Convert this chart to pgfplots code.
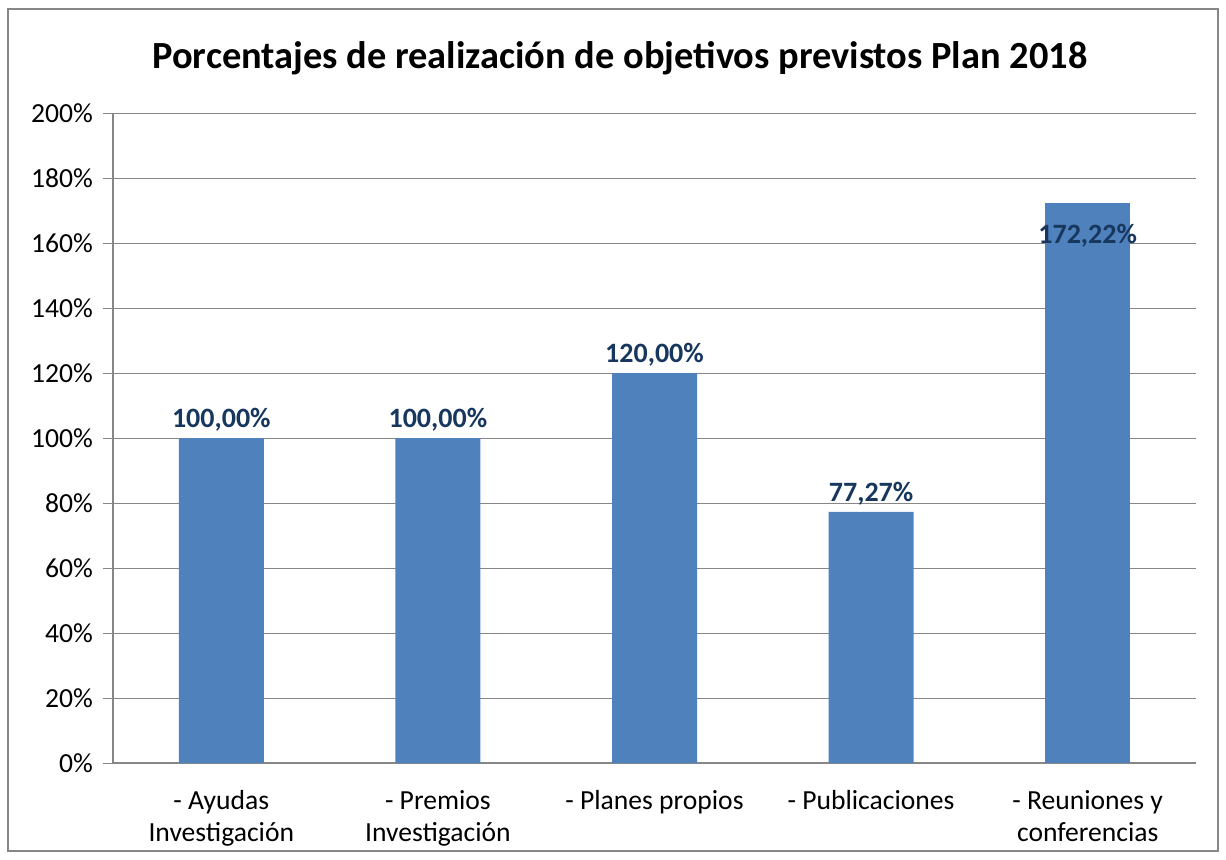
\documentclass[border=0pt]{standalone}
\usepackage{pgfplots}
\pgfplotsset{compat=1.18}
\usepackage{fontspec}
\setmainfont{Carlito}
\definecolor{barblue}{HTML}{4F81BD}
\definecolor{gridgray}{HTML}{868686}
\definecolor{lblnavy}{HTML}{17375E}
\begin{document}
\begin{tikzpicture}
\path[use as bounding box] (0,0) rectangle (613pt,-429.5pt);
\draw[gridgray, line width=1pt] (4pt,-4.5pt) rectangle (609pt,-425.5pt);
\node[font=\fontsize{19.2}{22}\selectfont\bfseries] at (310pt,-29pt) {Porcentajes de realización de objetivos previstos Plan 2018};
\begin{axis}[
 at={(56.5pt,-381.5pt)}, anchor=south west,
 scale only axis, width=541.5pt, height=325pt,
 xmin=-0.5, xmax=4.5, ymin=0, ymax=200,
 ytick={0,20,...,200},
 yticklabel={\pgfmathprintnumber[assume math mode=true]{\tick}\%},
 ymajorgrids, grid style={gridgray, line width=0.5pt},
 axis x line*=bottom, axis y line*=left,
 axis line style={gridgray, line width=0.6pt},
 tick align=outside, major tick length=5pt,
 tick style={gridgray, line width=0.5pt},
 xtick={0,1,2,3,4},
 xticklabels={{- Ayudas\\Investigación},{- Premios\\Investigación},{- Planes propios},{- Publicaciones},{- Reuniones y\\conferencias}},
 x tick style={draw=none},
 extra x ticks={-0.5,0.5,1.5,2.5,3.5,4.5},
 extra x tick labels={},
 extra x tick style={grid=none, tick style={draw=gridgray, line width=0.5pt}},
 xticklabel style={align=center, font=\fontsize{13.8}{16}\selectfont, yshift=-5pt},
 yticklabel style={font=\fontsize{13.8}{16}\selectfont, xshift=-1.5pt},
 ybar, bar width=42.5pt,
 nodes near coords={\pgfmathprintnumber[fixed, fixed zerofill, precision=2, use comma, assume math mode=true]{\pgfplotspointmeta}\%},
 every node near coord/.append style={font=\fontsize{14}{16}\selectfont\bfseries, text=lblnavy},
]
\addplot[fill=barblue, draw=none, bar shift=0pt] coordinates {(0,100) (1,100) (2,120) (3,77.27)};
\addplot[fill=barblue, draw=none, bar shift=0pt, every node near coord/.append style={anchor=center, yshift=-16pt}] coordinates {(4,172.22)};
\end{axis}
\end{tikzpicture}
\end{document}
